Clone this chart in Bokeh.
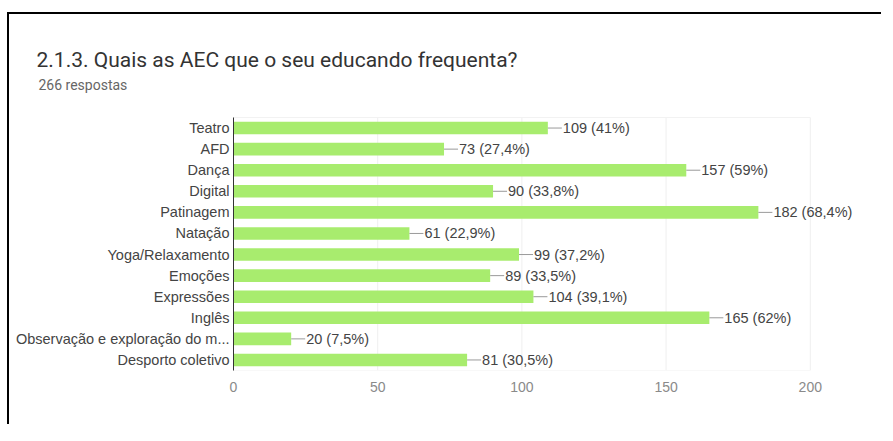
from bokeh.plotting import figure
from bokeh.models import ColumnDataSource, LabelSet, Title, FixedTicker, Range1d
from bokeh.embed import file_html
from bokeh.resources import INLINE
from bokeh.core.properties import value

title_text = "2.1.3.  Quais as AEC que o seu educando frequenta?"
subtitle_text = "266 respostas"
categories = ["Teatro", "AFD", "Dança", "Digital", "Patinagem", "Natação",
              "Yoga/Relaxamento", "Emoções", "Expressões", "Inglês",
              "Observação e exploração do m...", "Desporto coletivo"]
counts = [109, 73, 157, 90, 182, 61, 99, 89, 104, 165, 20, 81]
percents = ["41", "27,4", "59", "33,8", "68,4", "22,9", "37,2", "33,5", "39,1", "62", "7,5", "30,5"]
x_ticks = [0, 50, 100, 150, 200]

W, H = 874, 412
X_END = 224
ML, MR, MT, MB = 224, 4, 80, 56
ROW_PX = 253 / 12          # height of one category row
TOP_GAP = 23               # empty room between the chart and the subtitle
TITLE_FONT = "Roboto"
CHART_FONT = "Liberation Sans"

n = len(categories)
ypos = [n - 1 - i for i in range(n)]
labels = [f"{c} ({p}%)" for c, p in zip(counts, percents)]
px_per_unit = (W - ML - MR) / X_END
lead = 14 / px_per_unit
src = ColumnDataSource(dict(y=ypos, val=counts, lab=labels,
                            lead_end=[c + lead for c in counts]))

y_lo, y_hi = -0.5, n - 0.5
p = figure(width=W, height=H, output_backend="svg", toolbar_location=None,
           y_range=Range1d(y_lo, y_hi + TOP_GAP / ROW_PX),
           x_range=Range1d(0, X_END),
           min_border_left=ML, min_border_right=MR, min_border_top=MT, min_border_bottom=MB)
p.title.visible = False
p.outline_line_color = None
p.background_fill_color = "white"
p.border_fill_color = "white"

# vertical grid lines and faint plot-area edges, limited to the chart rows
p.segment(x0=x_ticks, x1=x_ticks, y0=[y_lo] * len(x_ticks), y1=[y_hi] * len(x_ticks),
          line_color="#efefef", line_width=1)
p.segment(x0=[x_ticks[0]] * 2, x1=[x_ticks[-1]] * 2, y0=[y_lo, y_hi], y1=[y_lo, y_hi],
          line_color="#f2f2f2", line_width=1)
p.xgrid.visible = False
p.ygrid.visible = False

p.hbar(y="y", right="val", left=0, height=0.6, source=src,
       fill_color="#a8ec6e", line_color=None)
p.segment(x0="val", y0="y", x1="lead_end", y1="y", source=src,
          line_color="#9a9a9a", line_width=1)
p.add_layout(LabelSet(x="lead_end", y="y", text="lab", source=src, x_offset=1,
                      text_font=value(CHART_FONT), text_font_size="14.5px",
                      text_color="#444444", text_baseline="middle"))

p.xaxis.ticker = x_ticks
p.xaxis.axis_line_color = None
p.xaxis.major_tick_line_color = None
p.xaxis.minor_tick_line_color = None
p.xaxis.major_tick_out = 0
p.xaxis.major_tick_in = 0
p.xaxis.major_label_text_font = CHART_FONT
p.xaxis.major_label_text_font_size = "14px"
p.xaxis.major_label_text_color = "#8a8a8a"
p.xaxis.major_label_standoff = 11

p.yaxis.ticker = FixedTicker(ticks=ypos)
p.yaxis.major_label_overrides = {y: c for y, c in zip(ypos, categories)}
p.yaxis.bounds = (y_lo, y_hi)
p.yaxis.axis_line_color = "#333333"
p.yaxis.major_tick_line_color = None
p.yaxis.minor_tick_line_color = None
p.yaxis.major_tick_out = 0
p.yaxis.major_tick_in = 0
p.yaxis.major_label_text_font = CHART_FONT
p.yaxis.major_label_text_font_size = "14.5px"
p.yaxis.major_label_text_color = "#444444"
p.yaxis.major_label_standoff = 4

p.add_layout(Title(text=subtitle_text, align="left", offset=38 - 233, standoff=4,
                   text_font=TITLE_FONT, text_font_size="14px", text_font_style="normal",
                   text_color="#666666"), "above")
p.add_layout(Title(text=title_text, align="left", offset=36 - 233, standoff=2,
                   text_font=TITLE_FONT, text_font_size="21px", text_font_style="normal",
                   text_color="#333333"), "above")

p.styles = {"border-top": "2px solid black", "border-left": "2px solid black",
            "margin-top": "12px", "margin-left": "7px"}

open("out.html", "w").write(file_html(p, INLINE))
